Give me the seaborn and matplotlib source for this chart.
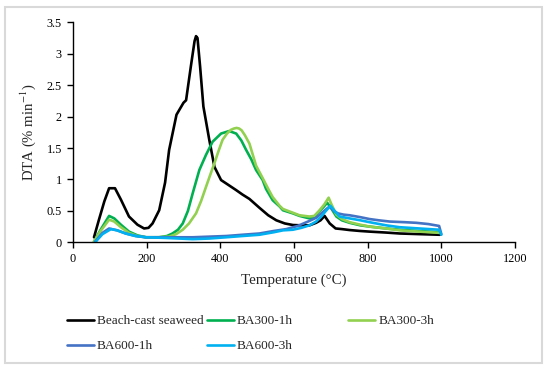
import numpy as np
import pandas as pd
import matplotlib
matplotlib.use("Agg")
import matplotlib.pyplot as plt
import seaborn as sns
from matplotlib.patches import Rectangle
from matplotlib.ticker import FuncFormatter

# series
seaweed_t = [57, 70, 85, 98, 114, 130, 152, 175, 193, 205, 216, 234, 250, 261, 281, 300, 307, 320,
             330, 334, 338, 345, 354, 370, 384, 402, 420, 443, 460, 479, 506, 530, 552, 575, 597,
             620, 642, 660, 672, 683, 690, 697, 713, 730, 751, 780, 805, 850, 887, 940, 996]
seaweed_y = [0.08, 0.35, 0.65, 0.86, 0.86, 0.68, 0.41, 0.28, 0.22, 0.23, 0.30, 0.51, 0.95, 1.47,
             2.03, 2.22, 2.26, 2.80, 3.20, 3.28, 3.25, 2.80, 2.16, 1.63, 1.20, 0.99, 0.92, 0.83,
             0.76, 0.69, 0.55, 0.43, 0.35, 0.30, 0.275, 0.27, 0.27, 0.31, 0.35, 0.42, 0.36, 0.30,
             0.22, 0.21, 0.195, 0.18, 0.17, 0.155, 0.14, 0.13, 0.12]

ba300_1h_t = [57, 75, 98, 112, 130, 152, 175, 198, 234, 255, 270, 285, 298, 312, 325, 343, 361,
              379, 402, 424, 443, 457, 470, 484, 497, 515, 524, 542, 561, 570, 597, 615, 642, 655,
              665, 680, 690, 700, 715, 730, 751, 780, 805, 850, 887, 940, 996]
ba300_1h_y = [0.01, 0.20, 0.42, 0.38, 0.28, 0.17, 0.11, 0.08, 0.08, 0.10, 0.14, 0.20, 0.30, 0.50,
              0.78, 1.15, 1.39, 1.60, 1.73, 1.77, 1.73, 1.62, 1.47, 1.32, 1.15, 0.99, 0.85, 0.67,
              0.57, 0.51, 0.46, 0.42, 0.38, 0.40, 0.47, 0.56, 0.63, 0.55, 0.41, 0.35, 0.31, 0.27,
              0.25, 0.22, 0.20, 0.18, 0.16]

ba300_3h_t = [57, 75, 98, 112, 130, 152, 175, 198, 230, 261, 280, 298, 315, 334, 348, 361, 373,
              384, 395, 406, 418, 429, 437, 444, 451, 458, 467, 479, 497, 515, 530, 542, 561, 570,
              597, 615, 642, 655, 668, 682, 694, 702, 715, 730, 751, 780, 805, 850, 887, 940, 996]
ba300_3h_y = [0.01, 0.18, 0.36, 0.33, 0.24, 0.15, 0.10, 0.08, 0.08, 0.09, 0.13, 0.20, 0.30, 0.46,
              0.66, 0.88, 1.08, 1.26, 1.45, 1.63, 1.73, 1.79, 1.81, 1.82, 1.81, 1.78, 1.70, 1.57,
              1.22, 1.02, 0.85, 0.72, 0.58, 0.53, 0.47, 0.43, 0.41, 0.42, 0.50, 0.60, 0.71, 0.60,
              0.44, 0.37, 0.32, 0.28, 0.25, 0.22, 0.19, 0.17, 0.15]

ba600_1h_t = [60, 80, 98, 120, 143, 170, 198, 250, 325, 370, 416, 460, 506, 545, 579, 610, 638,
              660, 674, 688, 697, 708, 719, 735, 751, 780, 805, 830, 860, 900, 932, 965, 994, 1000]
ba600_1h_y = [0.01, 0.15, 0.22, 0.19, 0.14, 0.10, 0.08, 0.08, 0.08, 0.09, 0.10, 0.12, 0.14, 0.18,
              0.21, 0.26, 0.33, 0.39, 0.46, 0.53, 0.57, 0.50, 0.46, 0.44, 0.43, 0.40, 0.37, 0.35,
              0.33, 0.32, 0.31, 0.29, 0.26, 0.13]

ba600_3h_t = [60, 80, 103, 120, 143, 170, 198, 250, 325, 370, 416, 460, 506, 545, 570, 597, 620,
              642, 660, 674, 688, 699, 710, 724, 751, 780, 805, 850, 887, 940, 994, 1000]
ba600_3h_y = [0.00, 0.13, 0.21, 0.19, 0.14, 0.10, 0.08, 0.07, 0.05, 0.06, 0.08, 0.10, 0.12, 0.16,
              0.19, 0.20, 0.23, 0.27, 0.33, 0.41, 0.51, 0.58, 0.50, 0.41, 0.38, 0.35, 0.32, 0.27,
              0.24, 0.22, 0.20, 0.12]

labels = ["Beach-cast seaweed", "BA300-1h", "BA300-3h", "BA600-1h", "BA600-3h"]
colors = ["#000000", "#00B050", "#92D050", "#4472C4", "#00B0F0"]
xticks = [0, 200, 400, 600, 800, 1000, 1200]
yticks = [0, 0.5, 1, 1.5, 2, 2.5, 3, 3.5]

series = [(seaweed_t, seaweed_y), (ba300_1h_t, ba300_1h_y), (ba300_3h_t, ba300_3h_y),
          (ba600_1h_t, ba600_1h_y), (ba600_3h_t, ba600_3h_y)]
df = pd.concat([pd.DataFrame({"Temperature": t, "DTA": y, "Sample": lab})
                for (t, y), lab in zip(series, labels)], ignore_index=True)

sns.set_style("ticks")
plt.rcParams["font.family"] = ["Liberation Serif", "DejaVu Serif"]
plt.rcParams["mathtext.fontset"] = "stix"

fig = plt.figure(figsize=(5.5, 3.71), dpi=100)
ax = fig.add_axes([73 / 550, 1 - 242.3 / 371, (515 - 73) / 550, (242.3 - 22.3) / 371])

sns.lineplot(data=df, x="Temperature", y="DTA", hue="Sample", hue_order=labels,
             palette=dict(zip(labels, colors)), sort=False, estimator=None,
             linewidth=1.9, legend=False, ax=ax)

ax.set_xlim(0, 1200)
ax.set_ylim(0, 3.5)
ax.set_xticks(xticks)
ax.set_yticks(yticks)
ax.yaxis.set_major_formatter(FuncFormatter(lambda v, p: f"{v:g}"))
ax.tick_params(direction="out", length=4, width=1, colors="black", labelsize=8.8, pad=4)
for s in ["top", "right"]:
    ax.spines[s].set_visible(False)
for s in ["left", "bottom"]:
    ax.spines[s].set_color("black")
    ax.spines[s].set_linewidth(1)
ax.set_xlabel("Temperature (°C)", fontsize=10.8, labelpad=6)
ax.set_ylabel("DTA (% min$^{-1}$)", fontsize=10.6, labelpad=6)

# legend laid out in three fixed columns like the original
handles = {lab: line for lab, line in zip(labels, ax.lines)}
cols = [(66.7, ["Beach-cast seaweed", "BA600-1h"]),
        (206.7, ["BA300-1h", "BA600-3h"]),
        (348, ["BA300-3h"])]
for xpx, labs in cols:
    leg = fig.legend([handles[l] for l in labs], labs, loc="upper left",
                     bbox_to_anchor=(xpx / 550, 1 - 315 / 371), frameon=False,
                     fontsize=9.5, handlelength=2.05, handletextpad=0.25,
                     labelspacing=0.98, borderpad=0, borderaxespad=0)

fig.patches.append(Rectangle((5 / 550, 1 - 363 / 371), 537 / 550, 356 / 371,
                             transform=fig.transFigure, fill=False,
                             edgecolor="#d9d9d9", linewidth=1.5))

fig.savefig("out.png", dpi=100)
